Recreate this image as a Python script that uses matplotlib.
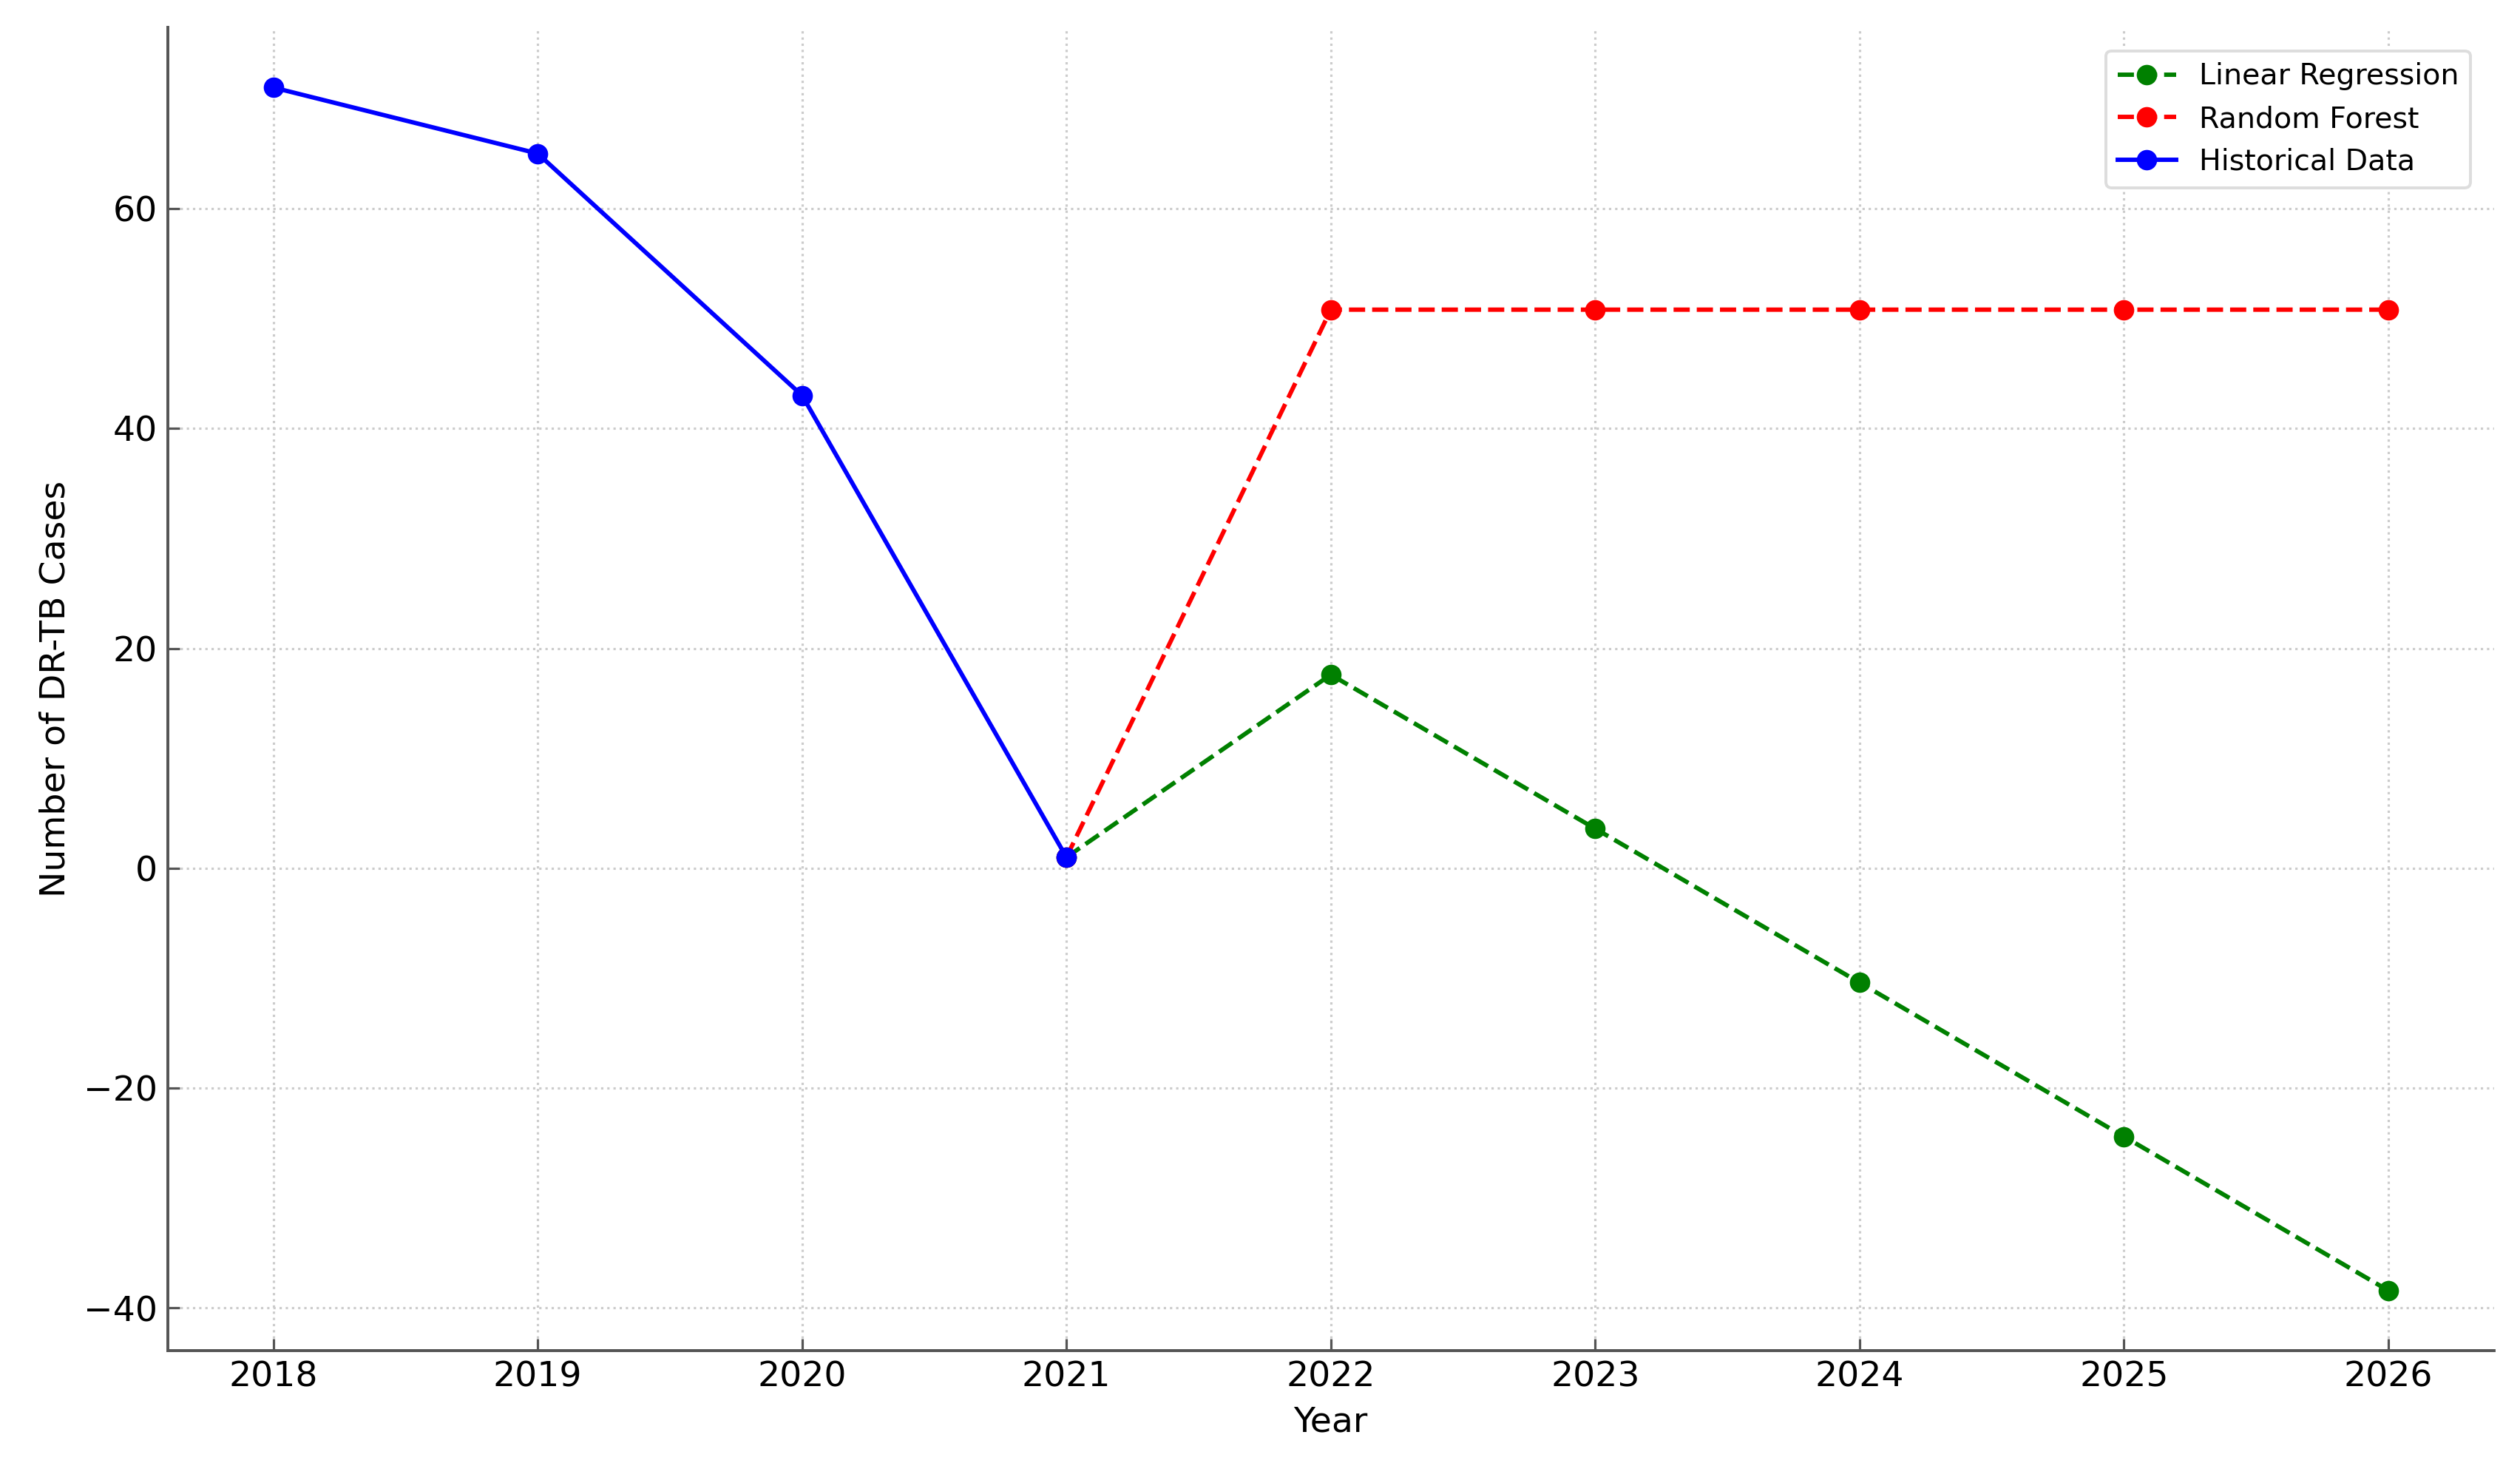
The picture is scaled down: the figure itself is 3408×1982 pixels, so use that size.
import matplotlib.pyplot as plt

# historical and forecast values
hist_years = [2018, 2019, 2020, 2021]
hist_cases = [71, 65, 43, 1]

forecast_years = [2021, 2022, 2023, 2024, 2025, 2026]
lr_cases = [1, 17.6, 3.6, -10.4, -24.4, -38.4]
rf_cases = [1, 50.8, 50.8, 50.8, 50.8, 50.8]

fig = plt.figure(figsize=(12, 6.979), dpi=284)
ax = fig.add_axes([0.0665, 0.0787, 0.9232, 0.9026])

ax.plot(forecast_years, lr_cases, linestyle='--', marker='o', color='green', label='Linear Regression')
ax.plot(forecast_years, rf_cases, linestyle='--', marker='o', color='red', label='Random Forest')
ax.plot(hist_years, hist_cases, linestyle='-', marker='o', color='blue', label='Historical Data')

ax.set_xticks(range(2018, 2027))
ax.set_xlabel('Year', fontsize=12)
ax.set_ylabel('Number of DR-TB Cases', fontsize=12)
ax.tick_params(labelsize=12, direction='in', length=4, color='#555555')

ax.grid(True, linestyle=':', color='#cccccc', linewidth=0.8)
for side in ['top', 'right']:
    ax.spines[side].set_visible(False)
for side in ['left', 'bottom']:
    ax.spines[side].set_color('#555555')
    ax.spines[side].set_linewidth(1.0)

leg = ax.legend(loc='upper right', fontsize=10, framealpha=1, borderaxespad=0.8)
leg.get_frame().set_edgecolor('#dddddd')

fig.savefig('out.png', dpi=284)
